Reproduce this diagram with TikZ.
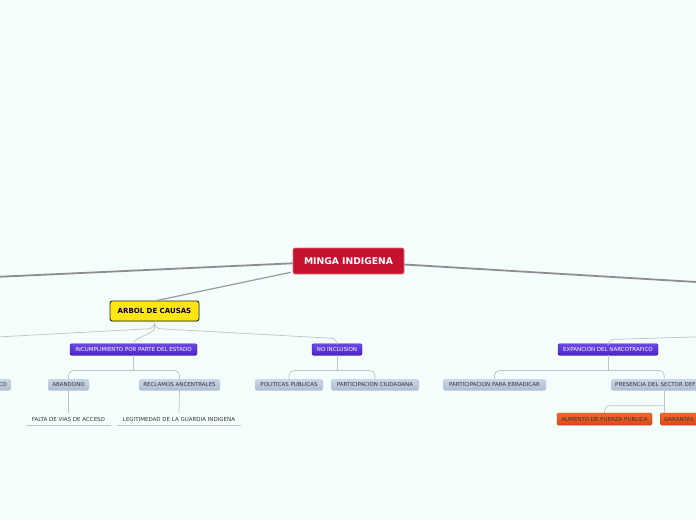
\documentclass[tikz,border=0pt]{standalone}
\usepackage{fontspec}
\setmainfont{DejaVu Sans}
\usetikzlibrary{shadows}
\definecolor{bg}{HTML}{F4FEFC}
\definecolor{mred}{HTML}{C5122F}
\definecolor{mredb}{HTML}{E36A80}
\definecolor{myellow}{HTML}{FFE612}
\definecolor{ptop}{HTML}{6C48E6}
\definecolor{pbot}{HTML}{4A24C6}
\definecolor{pdraw}{HTML}{3B1CA6}
\definecolor{gtop}{HTML}{CBD7E6}
\definecolor{gbot}{HTML}{AEBED3}
\definecolor{otop}{HTML}{F26A2E}
\definecolor{obot}{HTML}{DC4814}
\definecolor{odraw}{HTML}{C03A0C}
\definecolor{mainc}{HTML}{8E8E8E}
\definecolor{armc}{HTML}{9A9A9A}
\definecolor{subc}{HTML}{BDC4C4}
\definecolor{txt}{HTML}{333333}
\tikzset{
  smallfont/.style={font=\fontsize{5.5}{6}\selectfont},
  rootbox/.style={fill=mred, draw=mredb, line width=0.6pt, rounded corners=2pt,
    text=white, font=\fontsize{9.2}{11}\selectfont\bfseries,
    minimum width=111pt, minimum height=26pt, inner sep=0pt},
  causebox/.style={fill=myellow, draw=black!85, line width=0.9pt, rounded corners=2.5pt,
    font=\fontsize{7}{8}\selectfont\bfseries, minimum width=89pt, minimum height=20pt,
    inner sep=0pt, drop shadow={shadow xshift=0.6pt, shadow yshift=-0.8pt, opacity=0.3}},
  purplebox/.style={smallfont, top color=ptop, bottom color=pbot, draw=pdraw, line width=0.4pt,
    rounded corners=1.5pt, text=white, minimum height=11.5pt, inner sep=0pt,
    drop shadow={shadow xshift=0pt, shadow yshift=-0.8pt, opacity=0.3}},
  graybox/.style={smallfont, top color=gtop, bottom color=gbot, draw=none,
    rounded corners=1.5pt, text=txt, minimum height=11pt, inner sep=0pt,
    drop shadow={shadow xshift=0pt, shadow yshift=-0.9pt, opacity=0.3}},
  orangebox/.style={smallfont, top color=otop, bottom color=obot, draw=odraw, line width=0.4pt,
    rounded corners=1.5pt, text=txt, minimum height=12pt, inner sep=0pt,
    drop shadow={shadow xshift=0pt, shadow yshift=-0.8pt, opacity=0.3}},
  leafnode/.style={smallfont, text=txt, minimum height=12pt, inner sep=0pt},
  mainline/.style={draw=mainc, line width=1.8pt},
  armline/.style={draw=armc, line width=1.2pt},
  subline/.style={draw=subc, line width=0.7pt},
}
\begin{document}
\begin{tikzpicture}[x=1pt,y=-1pt]
\fill[bg] (0,0) rectangle (696,520);
\useasboundingbox (0,0) rectangle (696,520);
\clip (0,0) rectangle (696,520);

% off-canvas ends
\coordinate (leftmain) at (-100,281.3);
\coordinate (rightmain) at (800,288.2);
\coordinate (lcause) at (-40,344);
\coordinate (effects) at (900,330.8);

% nodes
\node[rootbox] (minga) at (348.5,261) {MINGA INDIGENA};
\node[causebox] (arbol) at (154.5,311) {ARBOL DE CAUSAS};

\node[purplebox, minimum width=127pt] (incum) at (133.5,349.5) {INCUMPLIMIENTO POR PARTE DEL ESTADO};
\node[purplebox, minimum width=50pt] (noincl) at (337,349.5) {NO INCLUSION};
\node[purplebox, minimum width=100pt] (expan) at (608,349.5) {EXPANCION DEL NARCOTRAFICO};

\node[graybox, anchor=east, text width=40pt, align=right, inner xsep=4pt] (co) at (11,384.5) {CO};
\node[graybox, minimum width=41pt] (abandono) at (68.5,384.5) {ABANDONO};
\node[graybox, minimum width=81pt] (reclamos) at (179.5,384.5) {RECLAMOS ANCENTRALES};
\node[graybox, minimum width=68pt] (politicas) at (289,384.5) {POLITICAS PUBLICAS};
\node[graybox, minimum width=88pt] (partciud) at (375,384.5) {PARTICIPACION CIUDADANA};
\node[graybox, minimum width=103pt] (parterr) at (494.5,384.5) {PARTICIPACION PARA ERRADICAR};
\node[graybox, anchor=west, text width=98pt, align=left, inner xsep=4pt] (presencia) at (611,384.5) {PRESENCIA DEL SECTOR DEF};

\node[leafnode, minimum width=84pt] (falta) at (68.5,419) {FALTA DE VIAS DE ACCESO};
\node[leafnode, minimum width=124pt] (legit) at (179,419) {LEGITIMEDAD DE LA GUARDIA INDIGENA};
\node[orangebox, minimum width=95pt] (aumento) at (604.5,419) {AUMENTO DE FUERZA PUBLICA};
\node[orangebox, anchor=west, text width=60pt, align=left, inner xsep=4pt] (garantas) at (660,419) {GARANTAS};

% underlines of leaf nodes
\draw[subline] (falta.south west) -- (falta.south east);
\draw[subline] (legit.south west) -- (legit.south east);

% main connectors
\draw[mainline] ([yshift=-2.3pt]minga.west) -- (leftmain);
\draw[mainline] ([yshift=-3.5pt]minga.east) -- (rightmain);
\draw[armline] ([xshift=-2pt,yshift=2pt]minga.south west) -- ([xshift=2pt]arbol.north);

% arbol children
\draw[subline, rounded corners=6pt] (arbol.south) -- ++(0,7) -- ([yshift=5pt]lcause) -- (lcause);
\draw[subline] (arbol.south) -- ++(0,7) .. controls +(0,5) and +(0,-6) .. (incum.north);
\draw[subline, rounded corners=6pt] (arbol.south) -- ++(0,7) -- ([yshift=5pt]noincl.north) -- (noincl.north);
\draw[subline, rounded corners=6pt] (expan.north) -- ([yshift=4pt]expan.north) -- (effects);

% level 3
\draw[subline] (incum.south) -- ([yshift=-15pt]incum.south);
\draw[subline, rounded corners=5pt] (abandono.north) |- ([yshift=-15pt]incum.south) -| (reclamos.north);
\draw[subline] (noincl.south) -- ([yshift=-15pt]noincl.south);
\draw[subline, rounded corners=5pt] (politicas.north) |- ([yshift=-15pt]noincl.south) -| (partciud.north);
\draw[subline] (expan.south) -- ([yshift=-15pt]expan.south);
\draw[subline, rounded corners=5pt] (parterr.north) |- ([yshift=-15pt]expan.south) -| (presencia.north);

% level 4
\draw[subline] (abandono.south) -- (falta.north);
\draw[subline] (reclamos.south) -- (legit.north);
\draw[subline] (presencia.south) -- (presencia.south |- garantas.north);
\draw[subline, rounded corners=5pt] (aumento.north) |- ([yshift=-15.5pt]presencia.south);
\end{tikzpicture}
\end{document}
